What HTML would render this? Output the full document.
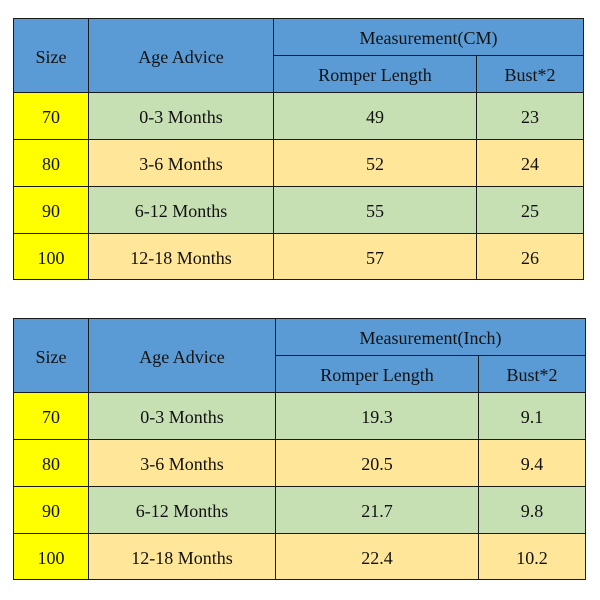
<!DOCTYPE html><html><head><style>
body{margin:0;width:600px;height:600px;background:#fff;position:relative;font-family:"Liberation Serif",serif;font-size:18px;color:#111}
div.c{position:absolute;box-sizing:border-box;border:1.5px solid #1a1a1a;display:flex;align-items:center;justify-content:center;padding-top:3px}
.b{background:#5b9bd5}.y{background:#ffff00}.g{background:#c6e0b4}.o{background:#ffe699}
</style></head><body>
<script>
function t(top,cols,vals,unit){
 let h='';const [x0,x1,x2,x3,x4]=cols;
 const rs=[top+92-18,top+139-18,top+186-18,top+233-18,top+279-18];
 const sub=top+37,hb=rs[0];
 h+=`<div class="c b" style="left:${x0}px;top:${top}px;width:${x1-x0+1}px;height:${hb-top+1}px">Size</div>`;
 h+=`<div class="c b" style="left:${x1}px;top:${top}px;width:${x2-x1+1}px;height:${hb-top+1}px">Age Advice</div>`;
 h+=`<div class="c b" style="left:${x2}px;top:${top}px;width:${x4-x2}px;height:${sub-top+1}px">Measurement(${unit})</div>`;
 h+=`<div class="c b" style="left:${x2}px;top:${sub}px;width:${x3-x2+1}px;height:${hb-sub+1}px">Romper Length</div>`;
 h+=`<div class="c b" style="left:${x3}px;top:${sub}px;width:${x4-x3}px;height:${hb-sub+1}px">Bust*2</div>`;
 const sz=['70','80','90','100'],age=['0-3 Months','3-6 Months','6-12 Months','12-18 Months'];
 for(let i=0;i<4;i++){const y=rs[i],hh=rs[i+1]-y+1,cl=i%2?'o':'g';
  h+=`<div class="c y" style="left:${x0}px;top:${y}px;width:${x1-x0+1}px;height:${hh}px">${sz[i]}</div>`;
  h+=`<div class="c ${cl}" style="left:${x1}px;top:${y}px;width:${x2-x1+1}px;height:${hh}px">${age[i]}</div>`;
  h+=`<div class="c ${cl}" style="left:${x2}px;top:${y}px;width:${x3-x2+1}px;height:${hh}px">${vals[i][0]}</div>`;
  h+=`<div class="c ${cl}" style="left:${x3}px;top:${y}px;width:${x4-x3}px;height:${hh}px">${vals[i][1]}</div>`;}
 document.write(h);}
t(18,[13,88,273,476,584],[[49,23],[52,24],[55,25],[57,26]],'CM');
t(318,[13,88,275,478,586],[['19.3','9.1'],['20.5','9.4'],['21.7','9.8'],['22.4','10.2']],'Inch');
</script>
</body></html>
